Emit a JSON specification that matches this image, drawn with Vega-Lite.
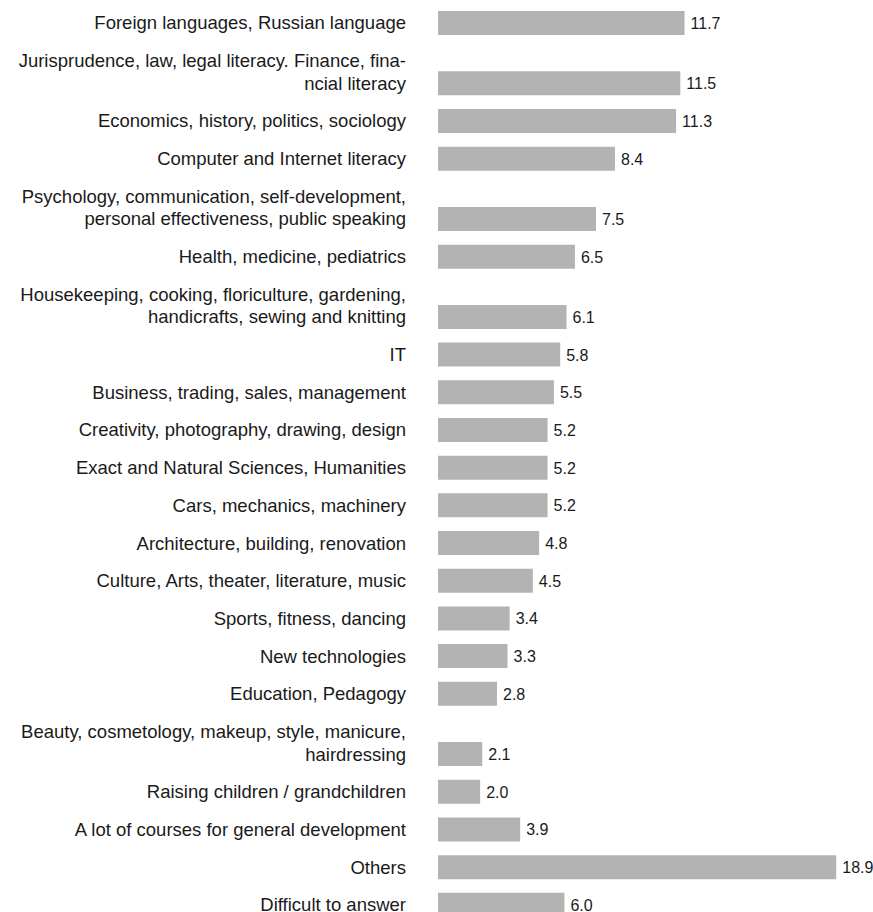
{
  "$schema": "https://vega.github.io/schema/vega-lite/v6.json",
  "width": 435,
  "height": 912,
  "autosize": {"type": "none"},
  "padding": {"left": 438, "top": 0, "right": 0, "bottom": 0},
  "background": "white",
  "config": {"view": {"stroke": null}},
  "data": {
    "values": [
      {"topic": "Foreign languages, Russian language", "value": 11.7},
      {"topic": "Jurisprudence, law, legal literacy. Finance, fina-\nncial literacy", "value": 11.5},
      {"topic": "Economics, history, politics, sociology", "value": 11.3},
      {"topic": "Computer and Internet literacy", "value": 8.4},
      {"topic": "Psychology, communication, self-development,\npersonal effectiveness, public speaking", "value": 7.5},
      {"topic": "Health, medicine, pediatrics", "value": 6.5},
      {"topic": "Housekeeping, cooking, floriculture, gardening,\nhandicrafts, sewing and knitting", "value": 6.1},
      {"topic": "IT", "value": 5.8},
      {"topic": "Business, trading, sales, management", "value": 5.5},
      {"topic": "Creativity, photography, drawing, design", "value": 5.2},
      {"topic": "Exact and Natural Sciences, Humanities", "value": 5.2},
      {"topic": "Cars, mechanics, machinery", "value": 5.2},
      {"topic": "Architecture, building, renovation", "value": 4.8},
      {"topic": "Culture, Arts, theater, literature, music", "value": 4.5},
      {"topic": "Sports, fitness, dancing", "value": 3.4},
      {"topic": "New technologies", "value": 3.3},
      {"topic": "Education, Pedagogy", "value": 2.8},
      {"topic": "Beauty, cosmetology, makeup, style, manicure,\nhairdressing", "value": 2.1},
      {"topic": "Raising children / grandchildren", "value": 2.0},
      {"topic": "A lot of courses for general development", "value": 3.9},
      {"topic": "Others", "value": 18.9},
      {"topic": "Difficult to answer", "value": 6.0}
    ]
  },
  "transform": [
    {"calculate": "length(split(datum.topic, '\\n'))", "as": "lines"},
    {"calculate": "1 + 0.6 * (datum.lines - 1)", "as": "u"},
    {"window": [{"op": "sum", "field": "u", "as": "cum"}], "frame": [null, 0]},
    {"calculate": "datum.cum - 0.6 * (datum.lines - 1)", "as": "firstLine"}
  ],
  "layer": [
    {
      "mark": {"type": "bar", "orient": "horizontal", "size": 24, "color": "#b3b3b3"},
      "encoding": {
        "y": {
          "field": "cum",
          "type": "quantitative",
          "scale": {"domain": [0.39, 24.59], "reverse": true, "nice": false, "zero": false, "padding": 0},
          "axis": null
        },
        "x": {"field": "value", "type": "quantitative", "scale": {"domain": [0, 20.645], "nice": false, "padding": 0}, "axis": null}
      }
    },
    {
      "mark": {"type": "text", "align": "left", "baseline": "alphabetic", "dx": 6, "dy": 6, "font": "Liberation Sans", "fontSize": 16, "color": "#1a1a1a"},
      "encoding": {
        "y": {"field": "cum", "type": "quantitative"},
        "x": {"field": "value", "type": "quantitative"},
        "text": {"field": "value", "type": "quantitative", "format": ".1f"}
      }
    },
    {
      "mark": {"type": "text", "align": "right", "baseline": "alphabetic", "dx": -32, "dy": 6.5, "lineBreak": "\n", "lineHeight": 22.6, "font": "Liberation Sans", "fontSize": 18.5, "color": "#1a1a1a"},
      "encoding": {
        "y": {"field": "firstLine", "type": "quantitative"},
        "x": {"datum": 0, "type": "quantitative"},
        "text": {"field": "topic"}
      }
    }
  ]
}
